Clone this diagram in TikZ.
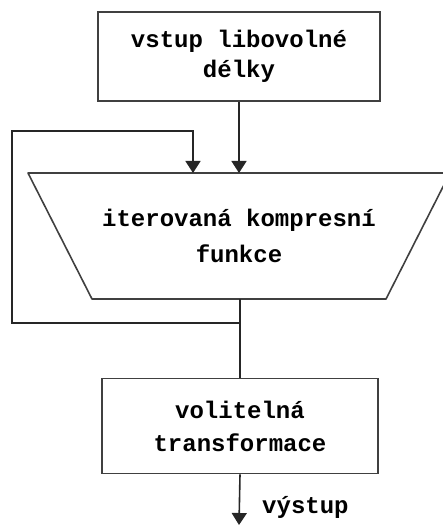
\documentclass[tikz,border=0pt]{standalone}
\usepackage{fontspec}
\setmonofont{Liberation Mono}
\usetikzlibrary{arrows.meta}
\tikzset{
  blok/.style={draw=black!75, line width=1.6pt, align=center, inner sep=0pt,
    font=\ttfamily\bfseries\fontsize{24}{30}\selectfont},
  popis/.style={align=center, inner sep=0pt,
    font=\ttfamily\bfseries\fontsize{24}{30}\selectfont},
  tok/.style={draw=black!85, line width=1.6pt},
  sip/.style={-{Triangle[width=15pt,length=12pt]}}
}
\begin{document}
\begin{tikzpicture}[x=1pt,y=-1pt]
    \useasboundingbox (0,0) rectangle (443,526);
        %% Vstup
        \node[blok, minimum width=282pt, minimum height=89pt] (vstup) at (239,56.5) {vstup libovolné\\délky};
        %% Kompresni funkce (lichobeznik)
        \coordinate (kLH) at (28,173);
        \coordinate (kPH) at (450,173);
        \coordinate (kPD) at (386,299);
        \coordinate (kLD) at (92,299);
        \draw[tok, draw=black!75, line join=round] (kLH) -- (kPH) -- (kPD) -- (kLD) -- cycle;
        \node[popis] (komp) at (239,236) {iterovaná kompresní\\[6pt]funkce};
            \draw[tok,sip] (vstup.south) -- (vstup.south |- kLH);
        %% Transformace
        \node[blok, minimum width=276pt, minimum height=95pt] (transf) at (240,426) {volitelná\\[3pt]transformace};
            \draw[tok] (transf.north |- kLD) -- (transf.north);
        %% Smycka (iterace)
        \coordinate (odb) at (239,323);
        \coordinate (smycka) at (193,131);
            \draw[tok,sip] (odb) -| (12,131) -- (smycka) -- (smycka |- kLH);
        %% Vystup
        \coordinate (konec) at (239,525);
            \draw[tok,sip] (transf.south) -- (konec);
        \node[popis, anchor=base west] (vyst) at (262,513) {výstup};
\end{tikzpicture}
\end{document}
